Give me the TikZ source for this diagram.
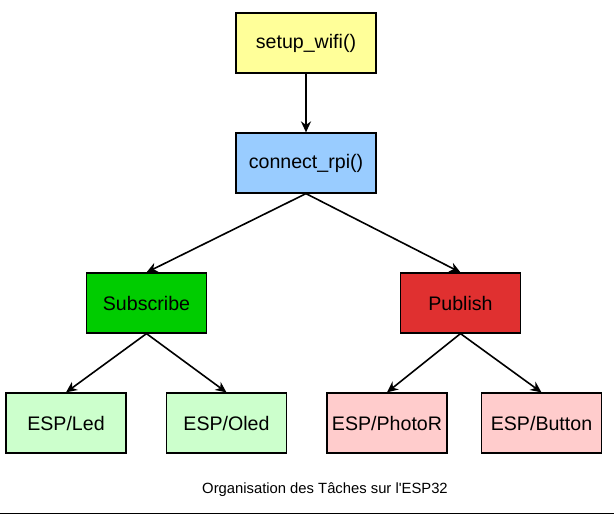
\documentclass[tikz,border=0pt]{standalone}
\usepackage{fontspec}
\setmainfont{Liberation Sans}
\usetikzlibrary{arrows.meta}
\usetikzlibrary{positioning}
\definecolor{wifiyellow}{HTML}{FFFF99}
\definecolor{rpiblue}{HTML}{99CCFF}
\definecolor{subgreen}{HTML}{00CC00}
\definecolor{pubred}{HTML}{E03030}
\definecolor{leafgreen}{HTML}{CCFFCC}
\definecolor{leafpink}{HTML}{FFCCCC}
\tikzset{box/.style = {draw, line width = 1.2pt, minimum width = 120pt,
                       minimum height = 60pt, inner sep = 0,
                       font = \fontsize{19.6}{23}\selectfont}}
\tikzset{link/.style = {-{Stealth[length = 11pt, width = 10pt, inset = 3.5pt]},
                        line width = 1.6pt}}
\begin{document}
\begin{tikzpicture}[x = 1pt, y = -1pt]
          \useasboundingbox (0, 0) rectangle (614, 517);
          \node [box, fill = wifiyellow, minimum width = 140pt] (wifi) at (306, 43) {setup\_wifi()};
          \node [box, fill = rpiblue, minimum width = 140pt] (rpi) at (306, 163) {connect\_rpi()};
          \node [box, fill = subgreen] (sub) at (146.5, 303) {Subscribe};
          \node [box, fill = pubred] (pub) at (460.5, 303) {Publish};
          \node [box, fill = leafgreen] (led) at (66, 423) {ESP/Led};
          \node [box, fill = leafgreen] (oled) at (226.5, 423) {ESP/Oled};
          \node [box, fill = leafpink] (photo) at (387, 423) {ESP/PhotoR};
          \node [box, fill = leafpink] (button) at (541.5, 423) {ESP/Button};
          \draw [link, line width = 2pt] (wifi.south) -- (rpi.north);
          \draw [link] (rpi.south) -- (sub.north);
          \draw [link] (rpi.south) -- (pub.north);
          \draw [link] (sub.south) -- (led.north);
          \draw [link] (sub.south) -- (oled.north);
          \draw [link] (pub.south) -- (photo.north);
          \draw [link] (pub.south) -- (button.north);
          \node [font = \fontsize{14.8}{17}\selectfont] (caption) at (325, 490) {Organisation des Tâches sur l\textquotesingle ESP32};
          \coordinate (rulel) at (0, 513);
          \coordinate (ruler) at (614, 513);
          \draw [line width = 1pt] (rulel) -- (ruler);
        \end{tikzpicture}
\end{document}
